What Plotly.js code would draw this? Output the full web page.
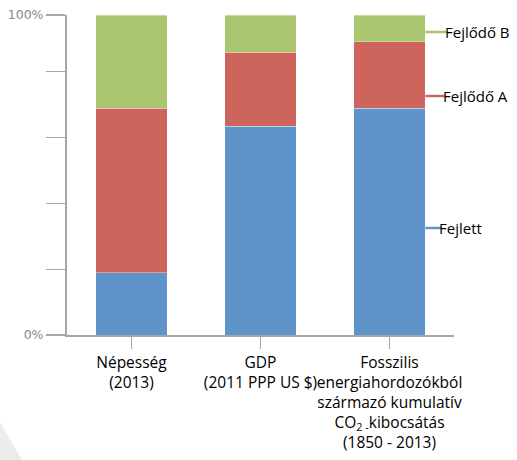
<!DOCTYPE html>
<html>
<head>
<meta charset="utf-8">
<script src="https://cdn.plot.ly/plotly-3.0.1.min.js"></script>
<style>html,body{margin:0;padding:0;background:#fff;}#chart{width:517px;height:460px;}</style>
</head>
<body>
<div id="chart"></div>
<script>
var categories = [
  "Népesség<br>(2013)",
  "GDP<br>(2011 PPP US $)",
  "Fosszilis<br>energiahordozókból<br>származó kumulatív<br>CO<sub>2 -</sub>kibocsátás<br>(1850 - 2013)"
];
var seriesNames = ["Fejlett", "Fejlődő A", "Fejlődő B"];
var fejlett   = [0.194, 0.652, 0.708];
var fejlodoA  = [0.514, 0.232, 0.208];
var fejlodoB  = [0.292, 0.116, 0.084];
var yTickVals = [0, 0.204, 0.411, 0.617, 0.823, 1];
var yTickText = ["0%", "", "", "", "", "100%"];

var colors = ["#5e94ca", "#cd655d", "#aac66e"];
var values = [fejlett, fejlodoA, fejlodoB];

var traces = values.map(function(v, i){
  return {
    type: "bar",
    x: [0, 1, 2],
    y: v,
    name: seriesNames[i],
    width: 0.556,
    marker: {color: colors[i], line: {color: "rgba(255,255,255,0.35)", width: 1}},
    hoverinfo: "skip"
  };
});

var L = 67, R = 63, T = 15, B = 125, W = 517, H = 460;
var pw = W - L - R, ph = H - T - B;
function px2x(p){ return (p - L) / pw; }
function py2y(p){ return (H - B - p) / ph; }

// label positions for the right-hand series labels (px)
var labelY = [228, 96, 32];
var labelX = [440, 444, 446];
var shapes = [];
var annotations = [];
var barRight = 2 + 0.556 / 2;
for (var i = 0; i < 3; i++) {
  shapes.push({type: "line", xref: "x", yref: "paper",
    x0: barRight, x1: (labelX[i] + 1 - L) / pw * 3 - 0.5,
    y0: py2y(labelY[i]), y1: py2y(labelY[i]),
    line: {color: colors[i], width: 2.5}});
  annotations.push({xref: "paper", yref: "paper", x: px2x(labelX[i]), y: py2y(labelY[i]),
    xanchor: "left", yanchor: "middle", showarrow: false, text: seriesNames[i],
    xshift: -3,
    font: {family: "Open Sans, Noto Sans, sans-serif", size: 15, color: "#000"}});
}
// decorative background triangle (bottom-left)
shapes.push({type: "path", xref: "paper", yref: "paper", layer: "below",
  path: "M " + px2x(0) + " " + py2y(422) + " L " + px2x(22) + " " + py2y(460) + " L " + px2x(0) + " " + py2y(460) + " Z",
  fillcolor: "#ececec", line: {width: 0}});

var layout = {
  width: W, height: H,
  margin: {l: L, r: R, t: T, b: B, pad: 0},
  barmode: "stack",
  showlegend: false,
  paper_bgcolor: "#fff",
  plot_bgcolor: "#fff",
  xaxis: {
    range: [-0.5, 2.5],
    tickvals: [0, 1, 2],
    ticktext: categories,
    tickangle: 0,
    tickson: "boundaries",
    ticks: "outside",
    ticklen: 12,
    tickwidth: 1.5,
    tickcolor: "#a6a6a6",
    showline: true, linecolor: "#a6a6a6", linewidth: 2,
    showgrid: false, zeroline: false,
    tickfont: {family: "Open Sans, Noto Sans, sans-serif", size: 15.5, color: "#000"},
    fixedrange: true
  },
  yaxis: {
    range: [0, 1],
    tickvals: yTickVals,
    ticktext: yTickText,
    ticks: "outside",
    ticklen: 19,
    tickwidth: 1.5,
    tickcolor: "#a6a6a6",
    showline: true, linecolor: "#a6a6a6", linewidth: 2,
    showgrid: false, zeroline: false,
    tickfont: {family: "DejaVu Sans, sans-serif", size: 12.5, color: "#888"},
    fixedrange: true
  },
  shapes: shapes,
  annotations: annotations
};

Plotly.newPlot("chart", traces, layout, {displayModeBar: false, staticPlot: true});
</script>
</body>
</html>
